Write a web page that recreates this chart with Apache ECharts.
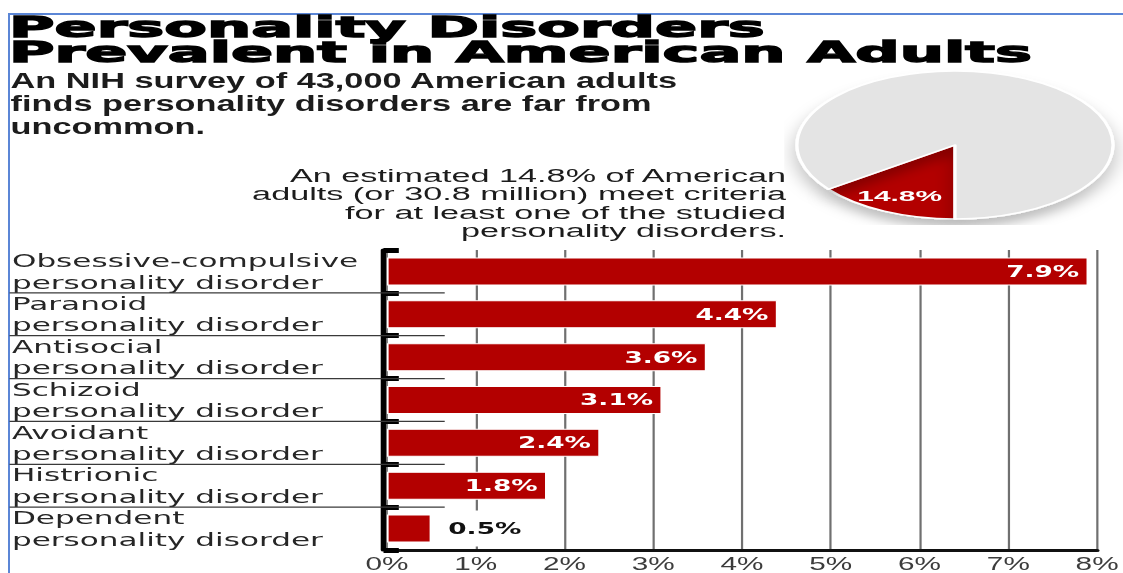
<!DOCTYPE html>
<html>
<head>
<meta charset="utf-8">
<script src="https://cdn.jsdelivr.net/npm/echarts@6/dist/echarts.min.js"></script>
<style>
html, body { margin: 0; padding: 0; background: #fff; }
#wrap { position: relative; width: 1123px; height: 573px; overflow: hidden; background: #fff; }
#frame { position: absolute; left: 8px; top: 13px; right: -4px; bottom: -4px; border-top: 2px solid #5b86d6; border-left: 2px solid #5b86d6; }
/* the infographic is stretched sideways, so the chart is drawn narrow and widened */
#main { position: absolute; left: 0; top: 0; width: 661px; height: 573px; transform: scaleX(1.7); transform-origin: 0 0; }
#pie { position: absolute; left: 875px; top: 65px; width: 160px; height: 160px; transform: scaleX(2.135); transform-origin: 50% 50%; }
</style>
</head>
<body>
<div id="wrap">
  <div id="frame"></div>
  <div id="main"></div>
  <div id="pie"></div>
</div>
<script>
var categories = [
    'Obsessive-compulsive\npersonality disorder',
    'Paranoid\npersonality disorder',
    'Antisocial\npersonality disorder',
    'Schizoid\npersonality disorder',
    'Avoidant\npersonality disorder',
    'Histrionic\npersonality disorder',
    'Dependent\npersonality disorder'
];
var prevalence = [7.9, 4.4, 3.6, 3.1, 2.4, 1.8, 0.5];
var xTickLabels = ['0%', '1%', '2%', '3%', '4%', '5%', '6%', '7%', '8%'];

var pieNames = ['Meet criteria', 'Do not meet criteria'];
var pieValues = [14.8, 85.2];
var pieColors = ['#b30000', '#e4e4e4'];

var titleLines = ['Personality Disorders', 'Prevalent in American Adults'];
var subtitle = 'An NIH survey of 43,000 American adults\nfinds personality disorders are far from\nuncommon.';
var note = 'An estimated 14.8% of American\nadults (or 30.8 million) meet criteria\nfor at least one of the studied\npersonality disorders.';

var RED = '#b30000';

// boundaries between rows get a thin rule
var boundaries = [];
for (var i = 1; i < categories.length; i++) boundaries.push([0, i]);

var myChart = echarts.init(document.getElementById('main'), null, { renderer: 'svg' });
myChart.setOption({
    animation: false,
    grid: { left: 227.6, right: 12.4, top: 250, bottom: 23 },
    xAxis: {
        type: 'value',
        min: 0,
        max: 8,
        interval: 1,
        axisLine: { show: true, onZero: false, lineStyle: { color: '#111', width: 3 } },
        axisTick: { show: false },
        splitLine: { show: true, lineStyle: { color: '#707070', width: 1.3 } },
        axisLabel: {
            margin: 5,
            color: '#3c3c3c',
            fontSize: 17.5,
            fontFamily: 'Liberation Sans',
            formatter: function (v) { return xTickLabels[v]; }
        }
    },
    yAxis: {
        type: 'category',
        data: categories,
        inverse: true,
        offset: 2,
        axisLine: { show: true, onZero: false, lineStyle: { color: '#000', width: 3.1 } },
        axisTick: { show: true, inside: true, length: 9, interval: 0, lineStyle: { color: '#000', width: 5 } },
        axisLabel: {
            align: 'left',
            margin: 218.6,
            interval: 0,
            color: '#262626',
            fontSize: 18.3,
            lineHeight: 21.4,
            fontFamily: 'DejaVu Sans'
        }
    },
    graphic: [
        {
            type: 'text', x: 5.3, y: 27, scaleX: 1.26,
            style: { text: titleLines[0], x: 0, y: 0, verticalAlign: 'middle', fill: '#000',
                font: 'bold 29px "DejaVu Sans"', stroke: '#000', lineWidth: 1.3 }
        },
        {
            type: 'text', x: 5.3, y: 52, scaleX: 1.26,
            style: { text: titleLines[1], x: 0, y: 0, verticalAlign: 'middle', fill: '#000',
                font: 'bold 29px "DejaVu Sans"', stroke: '#000', lineWidth: 1.3 }
        },
        {
            type: 'text', x: 6.2, y: 69, scaleX: 0.918,
            style: { text: subtitle, x: 0, y: 0, verticalAlign: 'top', fill: '#1c1c1c',
                font: 'bold 22px "Liberation Sans"', lineHeight: 23 }
        },
        {
            type: 'text', x: 462.4, y: 166, scaleX: 1.059,
            style: { text: note, x: 0, y: 0, align: 'right', verticalAlign: 'top', fill: '#1c1c1c',
                font: '19px "Liberation Sans"', lineHeight: 18.5 }
        }
    ],
    series: [
        {
            type: 'custom',
            silent: true,
            z: 1,
            encode: { x: 0, y: 1 },
            data: boundaries,
            renderItem: function (params, api) {
                var idx = api.value(1);
                var cs = params.coordSys;
                var y = (api.coord([0, idx - 1])[1] + api.coord([0, idx])[1]) / 2;
                return {
                    type: 'line',
                    shape: { x1: cs.x - 222, y1: y, x2: cs.x + 34, y2: y },
                    style: { stroke: '#3a3a3a', lineWidth: 1.2 }
                };
            }
        },
        {
            type: 'bar',
            barWidth: 28,
            z: 3,
            itemStyle: { color: RED, borderColor: '#fff', borderWidth: 1 },
            label: {
                show: true,
                position: 'insideRight',
                distance: 5.3,
                color: '#fff',
                fontWeight: 'bold',
                fontSize: 15.5,
                fontFamily: 'DejaVu Sans',
                formatter: '{c}%'
            },
            data: prevalence.map(function (v) {
                if (v >= 1) return v;
                return {
                    value: v,
                    label: {
                        position: 'right',
                        distance: 7,
                        color: '#111',
                        backgroundColor: '#fff',
                        padding: [10, 3]
                    }
                };
            })
        }
    ]
});

var pieChart = echarts.init(document.getElementById('pie'), null, { renderer: 'svg' });
pieChart.setOption({
    animation: false,
    series: [
        {
            type: 'pie',
            radius: 74,
            center: ['50%', '50%'],
            startAngle: 270,
            clockwise: true,
            silent: true,
            itemStyle: {
                borderColor: '#fff',
                borderWidth: 1.5,
                shadowBlur: 10,
                shadowOffsetY: 8,
                shadowColor: 'rgba(0,0,0,0.25)'
            },
            label: {
                position: 'inside',
                color: '#fff',
                fontWeight: 'bold',
                fontSize: 14,
                fontFamily: 'Liberation Sans',
                formatter: '{c}%'
            },
            labelLayout: { dx: -8, dy: 15 },
            data: pieValues.map(function (v, i) {
                return {
                    value: v,
                    name: pieNames[i],
                    itemStyle: { color: pieColors[i] },
                    label: { show: i === 0 }
                };
            })
        }
    ]
});
</script>
</body>
</html>
